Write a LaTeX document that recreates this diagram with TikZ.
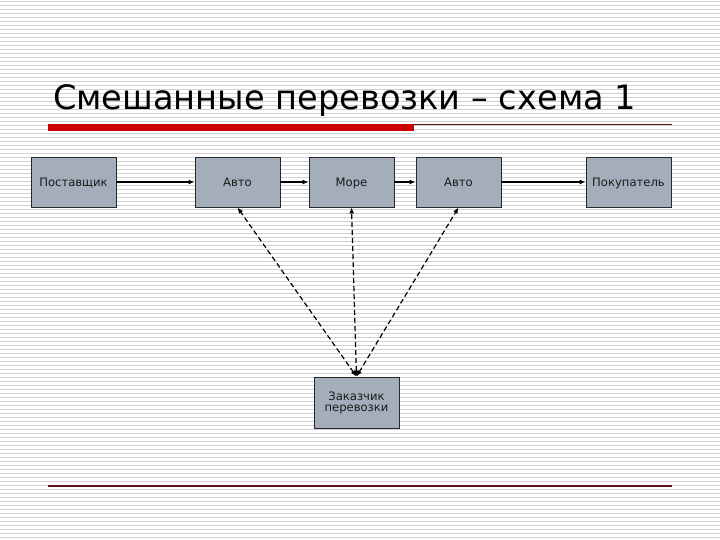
\documentclass[tikz,border=0pt]{standalone}
\usepackage{fontspec}
\setmainfont{DejaVu Sans}
\usetikzlibrary{arrows.meta}
\definecolor{stripe}{RGB}{208,208,208}
\definecolor{boxfill}{RGB}{163,174,186}
\definecolor{boxline}{RGB}{40,40,40}
\definecolor{redbar}{RGB}{204,0,0}
\definecolor{darkred}{RGB}{90,20,20}
\tikzset{
  boxbase/.style={draw=boxline, line width=0.9pt, fill=boxfill, minimum width=85pt, minimum height=50pt, inner sep=0pt, font=\fontsize{11.6}{13}\selectfont, text=black!90},
  box/.style={boxbase, text height=9.5pt, text depth=1pt},
  flow/.style={-{Latex[length=6pt,width=5pt]}, line width=1.5pt, black},
  dflow/.style={{Latex[length=6pt,width=5pt]}-{Latex[length=6pt,width=5pt]}, line width=1.2pt, black, dash pattern=on 5pt off 3pt}
}
\begin{document}
\begin{tikzpicture}[x=1pt,y=-1pt]
\useasboundingbox (0,0) rectangle (720,540);
\fill[white] (0,0) rectangle (720,540);
\foreach \k in {0,...,134} {
  \draw[stripe, line width=1.4pt] (0,{4*\k+1.5}) -- (720,{4*\k+1.5});
}
% title
\node[anchor=base west, inner sep=0pt, font=\fontsize{33.6}{40}\selectfont] (title) at (53,110) {Смешанные перевозки – схема 1};
% rules
\fill[redbar] (48,124) rectangle (414,131);
\draw[darkred, line width=1pt] (414,124.5) -- (672,124.5);
\draw[darkred, line width=1.4pt] (48,486) -- (672,486);
% boxes
\node[box] (p)  at (73.5,182)  {Поставщик};
\node[box] (a1) at (237.5,182) {Авто};
\node[box] (m)  at (351.5,182) {Море};
\node[box] (a2) at (458.5,182) {Авто};
\node[box] (k)  at (628.5,182) {Покупатель};
\node[boxbase, minimum height=51pt, align=center] (z) at (356.5,402.5) {Заказчик\\[-2pt]перевозки};
% flows
\draw[flow] (p) -- (a1);
\draw[flow] (a1) -- (m);
\draw[flow] (m) -- (a2);
\draw[flow] (a2) -- (k);
\draw[dflow] (z.north) -- (a1.south);
\draw[dflow] (z.north) -- (m.south);
\draw[dflow] (z.north) -- (a2.south);
\end{tikzpicture}
\end{document}
